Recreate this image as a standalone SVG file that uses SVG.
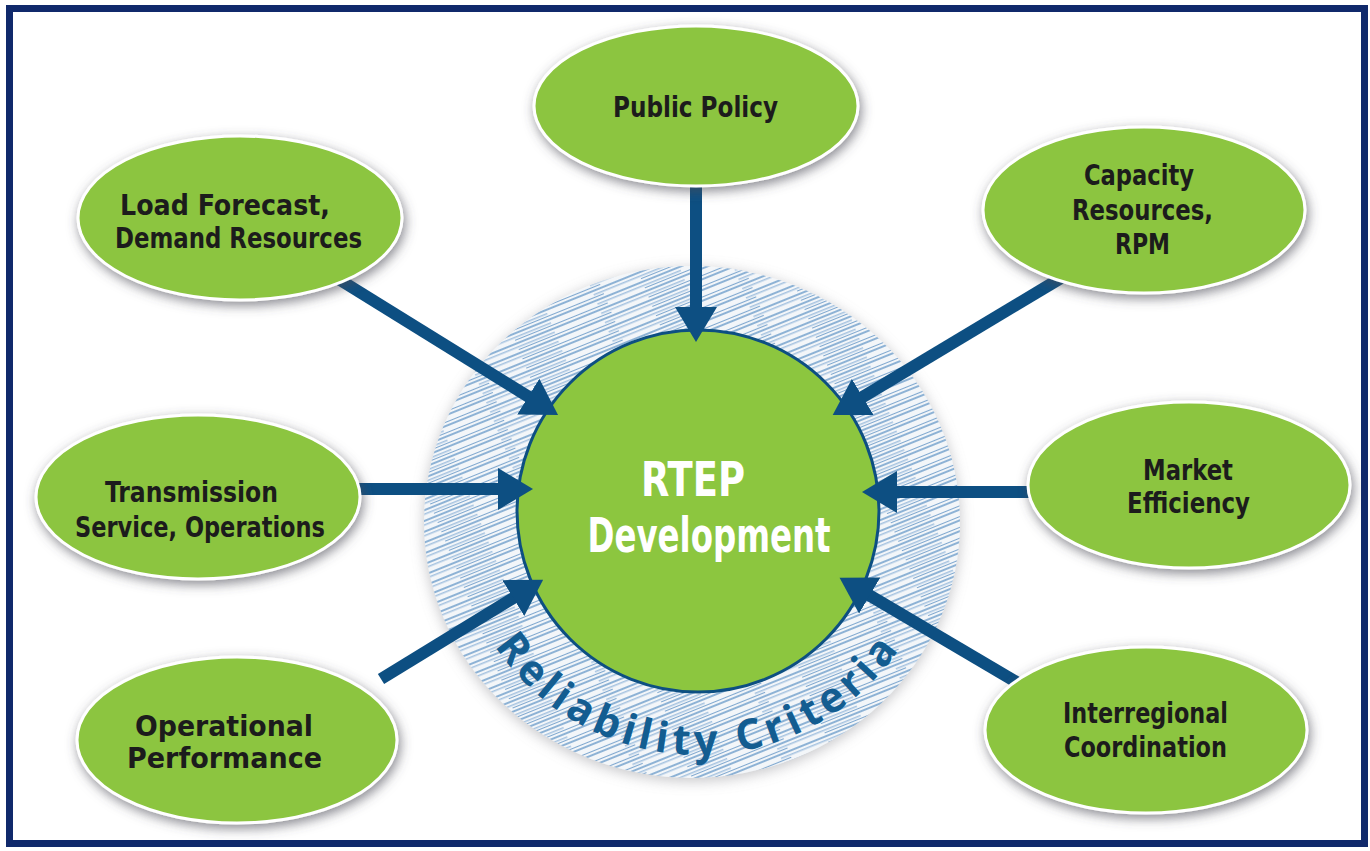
<svg xmlns="http://www.w3.org/2000/svg" width="1370" height="851" viewBox="0 0 1370 851">
<style>
.frame{fill:#ffffff;stroke:#10296b;stroke-width:7}
.node{fill:#8cc540;stroke:#ffffff;stroke-width:3;filter:url(#shadow)}
.lbl{font-family:"Liberation Sans Narrow","DejaVu Sans Condensed","Roboto Condensed",sans-serif;font-weight:bold;font-size:29px;fill:#1c1c1c}
.conn{stroke:#0d4f82;stroke-width:12;fill:none;marker-end:url(#head)}
.core{fill:#8cc63f;stroke:#0d4f82;stroke-width:3}
.coreTxt{font-family:"Liberation Sans Narrow","DejaVu Sans Condensed",sans-serif;font-weight:bold;font-size:48px;fill:#ffffff}
.rc{font-family:"Open Sans","Liberation Sans",sans-serif;font-weight:bold;font-size:42px;fill:#135d91;letter-spacing:5px}
</style>
<defs>
<filter id="shadow" x="-20%" y="-25%" width="140%" height="160%">
<feGaussianBlur in="SourceAlpha" stdDeviation="6"/>
<feOffset dx="2" dy="4" result="b"/>
<feFlood flood-color="#4a4a55" flood-opacity="0.65"/>
<feComposite in2="b" operator="in"/>
<feMerge><feMergeNode/><feMergeNode in="SourceGraphic"/></feMerge>
</filter>
<filter id="soft" x="-10%" y="-10%" width="120%" height="120%">
<feGaussianBlur in="SourceAlpha" stdDeviation="7"/>
<feOffset dx="0" dy="3" result="b"/>
<feFlood flood-color="#8a8a90" flood-opacity="0.5"/>
<feComposite in2="b" operator="in"/>
<feMerge><feMergeNode/><feMergeNode in="SourceGraphic"/></feMerge>
</filter>
<pattern id="hatch" patternUnits="userSpaceOnUse" width="140" height="10" patternTransform="rotate(-22)">
<rect width="140" height="10" fill="#f3f6f9"/>
<line x1="0" y1="2" x2="140" y2="2" stroke="#8db2d5" stroke-width="2.2"/>
<line x1="20" y1="5.8" x2="110" y2="5.8" stroke="#a6c3e0" stroke-width="1.6"/>
<line x1="70" y1="8.5" x2="140" y2="8.5" stroke="#7ea7cf" stroke-width="1.1"/>
<line x1="0" y1="8.5" x2="30" y2="8.5" stroke="#7ea7cf" stroke-width="1.1"/>
</pattern>
<marker id="head" markerUnits="userSpaceOnUse" markerWidth="42" markerHeight="42" refX="2" refY="21" orient="auto" viewBox="0 0 42 42">
<path d="M0,0 L35,21 L0,42 Z" fill="#0d4f82"/>
</marker>
<path id="rcPath" d="M 454 511 A 244 244 0 0 0 942 511"/>
</defs>

<rect class="frame" x="9.5" y="8.5" width="1355" height="835"/>

<g id="reliability-criteria">
<ellipse cx="692" cy="522" rx="268" ry="256" fill="url(#hatch)" filter="url(#soft)"/>
<text class="rc"><textPath href="#rcPath" startOffset="50%" text-anchor="middle">Reliability Criteria</textPath></text>
</g>

<g id="rtep-development">
<circle class="core" cx="698" cy="511" r="181"/>
<text class="coreTxt" x="693" y="496" text-anchor="middle" textLength="104" lengthAdjust="spacingAndGlyphs">RTEP</text>
<text class="coreTxt" x="709" y="552" text-anchor="middle" textLength="243" lengthAdjust="spacingAndGlyphs">Development</text>
</g>

<g id="connectors">
<line class="conn" x1="696" y1="175" x2="696" y2="309"/>
<line class="conn" x1="332" y1="275" x2="530" y2="397.6"/>
<line class="conn" x1="1066" y1="275" x2="861" y2="398"/>
<line class="conn" x1="345" y1="489" x2="500" y2="489"/>
<line class="conn" x1="1048" y1="492" x2="895" y2="492"/>
<line class="conn" x1="381" y1="679" x2="515" y2="597"/>
<line class="conn" x1="1030" y1="690" x2="868" y2="594.5"/>
</g>

<g id="public-policy">
<ellipse class="node" cx="696" cy="106" rx="162" ry="80"/>
<text class="lbl" x="613" y="117" textLength="165" lengthAdjust="spacingAndGlyphs">Public Policy</text>
</g>

<g id="load-forecast">
<ellipse class="node" cx="240" cy="218" rx="162" ry="82"/>
<text class="lbl" x="120" y="215" textLength="210" lengthAdjust="spacingAndGlyphs">Load Forecast,</text>
<text class="lbl" x="115" y="248" textLength="247" lengthAdjust="spacingAndGlyphs">Demand Resources</text>
</g>

<g id="capacity-resources">
<ellipse class="node" cx="1144" cy="210" rx="161" ry="83"/>
<text class="lbl" x="1084" y="185" textLength="110" lengthAdjust="spacingAndGlyphs">Capacity</text>
<text class="lbl" x="1072" y="220" textLength="141" lengthAdjust="spacingAndGlyphs">Resources,</text>
<text class="lbl" x="1115" y="254" textLength="55" lengthAdjust="spacingAndGlyphs">RPM</text>
</g>

<g id="transmission-service">
<ellipse class="node" cx="198" cy="497" rx="162" ry="82"/>
<text class="lbl" x="105" y="502" textLength="173" lengthAdjust="spacingAndGlyphs">Transmission</text>
<text class="lbl" x="75" y="537" textLength="250" lengthAdjust="spacingAndGlyphs">Service, Operations</text>
</g>

<g id="market-efficiency">
<ellipse class="node" cx="1189" cy="485" rx="161" ry="83"/>
<text class="lbl" x="1143" y="480" textLength="90" lengthAdjust="spacingAndGlyphs">Market</text>
<text class="lbl" x="1127" y="513" textLength="123" lengthAdjust="spacingAndGlyphs">Efficiency</text>
</g>

<g id="operational-performance">
<ellipse class="node" cx="237" cy="740" rx="160" ry="83"/>
<text class="lbl" x="135" y="736" textLength="178" lengthAdjust="spacingAndGlyphs">Operational</text>
<text class="lbl" x="127" y="768" textLength="195" lengthAdjust="spacingAndGlyphs">Performance</text>
</g>

<g id="interregional-coordination">
<ellipse class="node" cx="1146" cy="730" rx="161" ry="83"/>
<text class="lbl" x="1063" y="723" textLength="165" lengthAdjust="spacingAndGlyphs">Interregional</text>
<text class="lbl" x="1064" y="757" textLength="163" lengthAdjust="spacingAndGlyphs">Coordination</text>
</g>
</svg>
